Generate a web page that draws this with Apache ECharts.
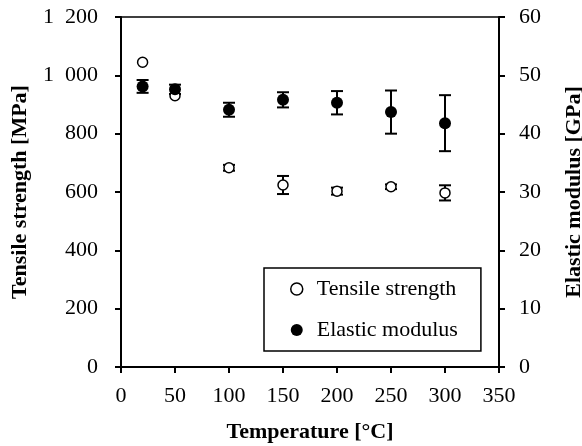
<!DOCTYPE html>
<html><head><meta charset="utf-8">
<script src="https://cdn.jsdelivr.net/npm/echarts@6/dist/echarts.min.js"></script>
<style>html,body{margin:0;padding:0;background:#fff}#c{width:582px;height:446px}</style>
</head><body><div id="c"></div>
<script>
const temperatures = [20, 50, 100, 150, 200, 250, 300];
const tensileStrength = [1045, 930, 683, 624, 603, 618, 597];
const tensileError = [0, 0, 10, 31, 12, 8, 26];
const elasticModulus = [48.1, 47.6, 44.1, 45.8, 45.3, 43.7, 41.8];
const elasticError = [1.1, 0.8, 1.2, 1.3, 2.0, 3.7, 4.8];
const seriesNames = ['Tensile strength', 'Elastic modulus'];
const xAxisTitle = 'Temperature [°C]';
const leftAxisTitle = 'Tensile strength [MPa]';
const rightAxisTitle = 'Elastic modulus [GPa]';

const FONT = "'Liberation Serif', 'Times New Roman', serif";
const chart = echarts.init(document.getElementById('c'));

function errRenderer(params, api) {
  const x = api.value(0), y = api.value(1), e = api.value(2);
  if (!e) return null;
  const top = api.coord([x, y + e]);
  const bot = api.coord([x, y - e]);
  const hw = 6;
  const style = { stroke: '#000', lineWidth: 2, fill: null };
  return { type: 'group', children: [
    { type: 'line', shape: { x1: top[0], y1: top[1], x2: bot[0], y2: bot[1] }, style },
    { type: 'line', shape: { x1: top[0] - hw, y1: top[1], x2: top[0] + hw, y2: top[1] }, style },
    { type: 'line', shape: { x1: bot[0] - hw, y1: bot[1], x2: bot[0] + hw, y2: bot[1] }, style }
  ]};
}

const tsData = temperatures.map((t, i) => [t, tensileStrength[i]]);
const emData = temperatures.map((t, i) => [t, elasticModulus[i]]);
const tsErr = temperatures.map((t, i) => [t, tensileStrength[i], tensileError[i]]);
const emErr = temperatures.map((t, i) => [t, elasticModulus[i], elasticError[i]]);

const axisCommon = {
  axisLine: { show: true, lineStyle: { color: '#000', width: 2 } },
  axisTick: { show: true, inside: false, length: 6, lineStyle: { color: '#000', width: 2 } },
  splitLine: { show: false },
  axisLabel: { color: '#000', fontFamily: FONT, fontSize: 22 },
  nameTextStyle: { color: '#000', fontFamily: FONT, fontSize: 22, fontWeight: 'bold' },
  nameLocation: 'middle'
};

chart.setOption({
  animation: false,
  backgroundColor: '#fff',
  grid: { left: 121, right: 83, top: 17, bottom: 79, show: true, borderColor: '#000', borderWidth: 1.5,
          containLabel: false, outerBoundsMode: 'none' },
  legend: {
    left: 264, top: 268, orient: 'vertical',
    padding: [10, 23, 10, 26],
    borderColor: '#000', borderWidth: 1.5, borderRadius: 0,
    itemWidth: 12, itemHeight: 12, itemGap: 19,
    textStyle: { color: '#000', fontFamily: FONT, fontSize: 22, padding: [0, 0, 0, 9] },
    data: [
      { name: seriesNames[0], icon: 'circle', itemStyle: { color: '#fff', borderColor: '#000', borderWidth: 1.5 } },
      { name: seriesNames[1], icon: 'circle', itemStyle: { color: '#000' } }
    ]
  },
  xAxis: Object.assign({}, axisCommon, {
    type: 'value', min: 0, max: 350, interval: 50,
    name: xAxisTitle, nameGap: 54,
    axisLabel: Object.assign({}, axisCommon.axisLabel, { margin: 18 })
  }),
  yAxis: [
    Object.assign({}, axisCommon, {
      type: 'value', min: 0, max: 1200, interval: 200, position: 'left',
      name: leftAxisTitle, nameGap: 90, nameRotate: 90,
      axisLabel: Object.assign({}, axisCommon.axisLabel, {
        margin: 23,
        formatter: v => v >= 1000 ? String(v).replace(/(\d)(?=(\d{3})+$)/, '$1\u2002') : String(v)
      })
    }),
    Object.assign({}, axisCommon, {
      type: 'value', min: 0, max: 60, interval: 10, position: 'right',
      name: rightAxisTitle, nameGap: 64, nameRotate: 90,
      axisLabel: Object.assign({}, axisCommon.axisLabel, { margin: 20 })
    })
  ],
  series: [
    { type: 'custom', name: 'tsErr', yAxisIndex: 0, renderItem: errRenderer, data: tsErr, z: 1, silent: true, encode: { x: 0, y: 1 } },
    { type: 'custom', name: 'emErr', yAxisIndex: 1, renderItem: errRenderer, data: emErr, z: 1, silent: true, encode: { x: 0, y: 1 } },
    { type: 'scatter', name: seriesNames[0], yAxisIndex: 0, data: tsData, symbol: 'circle', symbolSize: 10,
      itemStyle: { color: '#fff', borderColor: '#000', borderWidth: 1.5, opacity: 1 }, z: 3 },
    { type: 'scatter', name: seriesNames[1], yAxisIndex: 1, data: emData, symbol: 'circle', symbolSize: 12,
      itemStyle: { color: '#000', opacity: 1 }, z: 3 }
  ]
});
</script></body></html>
